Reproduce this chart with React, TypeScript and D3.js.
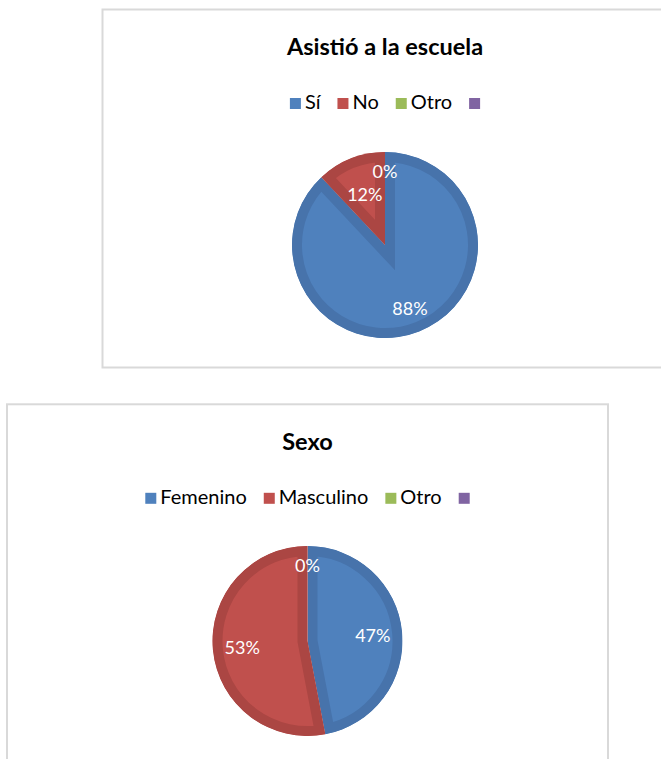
import React from "react";
import * as d3 from "d3";

// ---- Data ----
const schoolTitle = "Asistió a la escuela";
const schoolCategories = ["Sí", "No", "Otro", ""];
const schoolValues: (number | null)[] = [88, 12, 0, null];

const sexTitle = "Sexo";
const sexCategories = ["Femenino", "Masculino", "Otro", ""];
const sexValues: (number | null)[] = [47, 53, 0, null];

const seriesColors = ["#4F81BD", "#C0504D", "#9BBB59", "#8064A2"];
const bandColors = ["#4773AB", "#AB4643", "#8AA84E", "#725A91"];

const FONT = "Lato, 'Open Sans', 'DejaVu Sans', sans-serif";

let ctx: CanvasRenderingContext2D | null = null;
function measure(text: string, font: string): number {
  if (!ctx) ctx = document.createElement("canvas").getContext("2d");
  if (!ctx) return text.length * 9;
  ctx.font = font;
  return ctx.measureText(text).width;
}

type ChartProps = {
  id: string;
  x: number;
  y: number;
  w: number;
  h: number;
  pieDy: number;
  r: number;
  title: string;
  categories: string[];
  values: (number | null)[];
};

function PieChart({ id, x, y, w, h, pieDy, r, title, categories, values }: ChartProps) {
  const cx = x + w / 2;
  const cy = y + pieDy;
  const numeric = values.map((v) => v ?? 0);
  const total = d3.sum(numeric);
  const pie = d3.pie<number>().sort(null).value((d) => d);
  const arcs = pie(numeric);
  const arcGen = d3.arc<d3.PieArcDatum<number>>().innerRadius(0).outerRadius(r);
  const fmt = d3.format(".0%");

  // Legend layout
  const legendFontSize = 20;
  const legendFont = `${legendFontSize}px ${FONT}`;
  const sq = 11;
  const gapText = 4;
  const spacing = 17;
  const itemWidths = categories.map((c) => sq + (c ? gapText + measure(c, legendFont) : 0));
  const legendTotal = d3.sum(itemWidths) + spacing * (categories.length - 1);
  let lx = cx - legendTotal / 2;
  const legendItems = categories.map((c, i) => {
    const item = { c, i, x: lx };
    lx += itemWidths[i] + spacing;
    return item;
  });
  const legendBase = y + 99.5;

  // Data labels (inside end, with overlap avoidance)
  const labelFontSize = 18;
  const labelFont = `${labelFontSize}px ${FONT}`;
  const hh = 9;
  const placed: { x0: number; x1: number; y0: number; y1: number }[] = [];
  const labels: { text: string; x: number; y: number; i: number }[] = [];
  for (let i = arcs.length - 1; i >= 0; i--) {
    if (values[i] === null) continue;
    const a = arcs[i];
    const text = fmt(numeric[i] / total);
    const mid = (a.startAngle + a.endAngle) / 2;
    const dx = Math.sin(mid);
    const dy = -Math.cos(mid);
    const hw = measure(text, labelFont) / 2 + 1;
    let t = r - 10 - Math.abs(dx) * hw - Math.abs(dy) * hh;
    const pad = 5;
    const box = (tt: number) => {
      const px = cx + dx * tt;
      const py = cy + dy * tt;
      return { x0: px - hw, x1: px + hw, y0: py - hh, y1: py + hh };
    };
    const overlaps = (b: { x0: number; x1: number; y0: number; y1: number }) =>
      placed.some((p) => b.x0 < p.x1 + pad && b.x1 > p.x0 - pad && b.y0 < p.y1 + pad && b.y1 > p.y0 - pad);
    while (t > 0 && overlaps(box(t))) t -= 1;
    placed.push(box(t));
    labels.push({ text, x: cx + dx * t, y: cy + dy * t, i });
  }

  return (
    <g>
      <rect x={x} y={y} width={w} height={h} fill="#FFFFFF" stroke="#D9D9D9" strokeWidth={2} />
      <text
        x={cx}
        y={y + 45.5}
        textAnchor="middle"
        fontFamily={FONT}
        fontWeight={700}
        fontSize={23.5}
        fill="#000"
      >
        {title}
      </text>
      {legendItems.map(({ c, i, x: ix }) => (
        <g key={`lg-${i}`}>
          <rect x={ix} y={legendBase - sq} width={sq} height={sq} fill={seriesColors[i]} />
          {c ? (
            <text x={ix + sq + gapText} y={legendBase} fontFamily={FONT} fontSize={legendFontSize} fill="#000">
              {c}
            </text>
          ) : null}
        </g>
      ))}
      <defs>
        {arcs.map((a, i) =>
          numeric[i] > 0 ? (
            <clipPath id={`${id}-clip-${i}`} key={`cp-${i}`}>
              <path d={arcGen(a) || ""} />
            </clipPath>
          ) : null
        )}
      </defs>
      <g transform={`translate(${cx},${cy})`}>
        {arcs.map((a, i) =>
          numeric[i] > 0 ? (
            <path
              key={`sl-${i}`}
              d={arcGen(a) || ""}
              fill={seriesColors[i]}
              stroke={bandColors[i]}
              strokeWidth={20}
              strokeLinejoin="miter"
              strokeMiterlimit={10}
              clipPath={`url(#${id}-clip-${i})`}
            />
          ) : null
        )}
      </g>
      {labels.map((l) => (
        <text
          key={`lb-${l.i}`}
          x={l.x}
          y={l.y}
          textAnchor="middle"
          dominantBaseline="central"
          fontFamily={FONT}
          fontSize={labelFontSize}
          fill="#FFFFFF"
        >
          {l.text}
        </text>
      ))}
    </g>
  );
}

export default function App() {
  return (
    <svg
      width={661}
      height={759}
      style={{ position: "absolute", left: 0, top: 0, background: "#FFFFFF" }}
    >
      <rect x={0} y={0} width={661} height={759} fill="#FFFFFF" />
      <PieChart
        id="school"
        x={102.5}
        y={9.5}
        w={565}
        h={358}
        pieDy={235.5}
        r={93}
        title={schoolTitle}
        categories={schoolCategories}
        values={schoolValues}
      />
      <PieChart
        id="sex"
        x={7}
        y={404.3}
        w={601}
        h={360}
        pieDy={236.7}
        r={95}
        title={sexTitle}
        categories={sexCategories}
        values={sexValues}
      />
    </svg>
  );
}
